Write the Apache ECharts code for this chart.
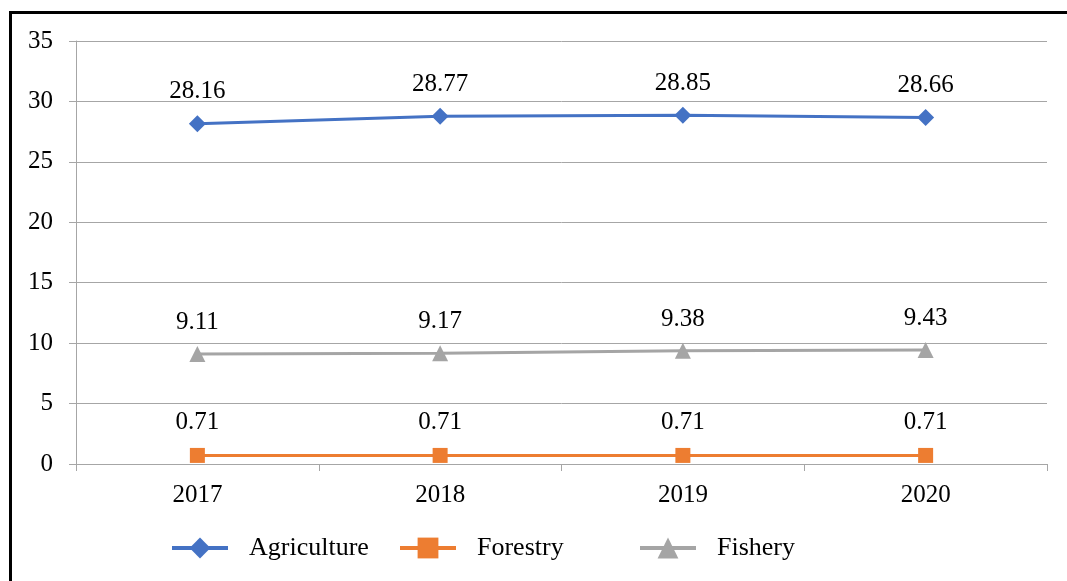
<!DOCTYPE html>
<html><head><meta charset="utf-8">
<script src="https://cdn.jsdelivr.net/npm/echarts@6/dist/echarts.min.js"></script>
<style>html,body{margin:0;padding:0;background:#fff;}#c{width:1067px;height:581px;}</style>
</head><body><div id="c"></div>
<script>
const categories = ['2017','2018','2019','2020'];
const agriculture = [28.16, 28.77, 28.85, 28.66];
const forestry = [0.71, 0.71, 0.71, 0.71];
const fishery = [9.11, 9.17, 9.38, 9.43];
const yTicks = [0,5,10,15,20,25,30,35];

const FONT = 'Liberation Serif';
const grey = '#a6a6a6';
function lbl(dist){ return {show:true, position:'top', distance:dist, fontFamily:FONT, fontSize:25, color:'#000'}; }
function leg(name, left){
  return {data:[name], left:left, top:535, padding:0, itemWidth:56, itemHeight:26,
    lineStyle:{width:4},
    textStyle:{fontFamily:FONT, fontSize:26, color:'#000', padding:[0,0,0,16]}};
}
const chart = echarts.init(document.getElementById('c'));
chart.setOption({
  animation:false,
  graphic:[{type:'rect', shape:{x:10.5,y:12.5,width:1200,height:1000}, style:{fill:'none', stroke:'#000', lineWidth:3}, silent:true}],
  legend:[leg('Agriculture',170), leg('Forestry',398), leg('Fishery',638)],
  grid:{left:76, right:20, top:41, bottom:117},
  xAxis:{type:'category', data:categories, boundaryGap:true,
    axisLine:{lineStyle:{color:grey, width:1}},
    axisTick:{show:true, length:7, lineStyle:{color:grey}},
    axisLabel:{fontFamily:FONT, fontSize:25, color:'#000', margin:19}},
  yAxis:{type:'value', min:0, max:35, interval:5,
    axisLine:{show:true, lineStyle:{color:grey, width:1}},
    axisTick:{show:true, length:7, lineStyle:{color:grey}},
    splitLine:{lineStyle:{color:grey, width:1}},
    axisLabel:{fontFamily:FONT, fontSize:25, color:'#000', margin:23,
      formatter:v=> yTicks.includes(v) ? String(v) : ''}},
  series:[
    {name:'Agriculture', type:'line', data:agriculture, symbol:'diamond', symbolSize:17,
      itemStyle:{color:'#4472c4'}, lineStyle:{color:'#4472c4', width:3}, label:lbl(11)},
    {name:'Forestry', type:'line', data:forestry, symbol:'rect', symbolSize:15,
      itemStyle:{color:'#ed7d31'}, lineStyle:{color:'#ed7d31', width:3}, label:lbl(13)},
    {name:'Fishery', type:'line', data:fishery, symbol:'triangle', symbolSize:16,
      itemStyle:{color:'#a5a5a5'}, lineStyle:{color:'#a5a5a5', width:3}, label:lbl(11)}
  ]
});
</script></body></html>
